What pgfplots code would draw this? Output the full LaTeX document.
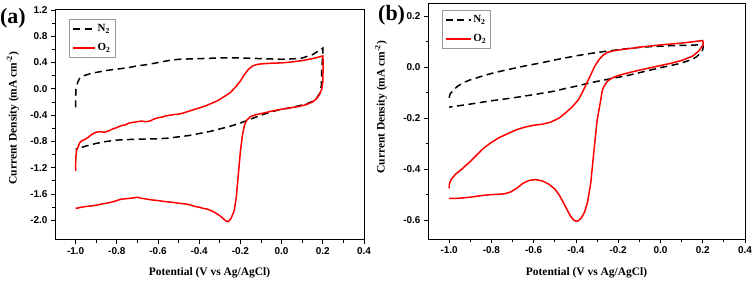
\documentclass[border=0pt]{standalone}
\usepackage{fontspec}
\setmainfont{Liberation Serif}
\setsansfont{Liberation Sans}
\usepackage{pgfplots}
\pgfplotsset{compat=1.18}
\pgfplotsset{cvstyle/.style={
  scale only axis,
  axis line style={line width=1bp},
  tick align=outside, xtick pos=bottom, ytick pos=left,
  major tick length=4bp, minor tick length=2.5bp,
  every tick/.style={black, line width=0.8bp},
  minor x tick num=1, minor y tick num=1,
  tick label style={font=\sffamily\bfseries\fontsize{10}{11}\selectfont,
    /pgf/number format/assume math mode=true,
    /pgf/number format/fixed, /pgf/number format/fixed zerofill,
    /pgf/number format/precision=1},
  xlabel={Potential (V vs Ag/AgCl)},
  ylabel={Current Density (mA cm\textsuperscript{-2})},
  label style={font=\bfseries\fontsize{11.5}{13}\selectfont},
  xmin=-1.1, xmax=0.4,
  xtick={-1.0,-0.8,...,0.41},
  legend cell align=left,
  n2/.style={black, line width=1.5bp, dash pattern=on 7bp off 4.5bp},
  o2/.style={red, line width=1.5bp},
}}
\begin{document}
\begin{tikzpicture}
\path[use as bounding box] (0,0) rectangle (756bp,281bp);
\begin{axis}[cvstyle, at={(55bp,41bp)}, anchor=south west, width=309bp, height=230bp,
  ymin=-2.3, ymax=1.2, ytick={-2.0,-1.6,...,1.21},
  xlabel style={at={(axis description cs:0.5,-0.143)}, anchor=center},
  ylabel style={at={(axis description cs:-0.136,0.53)}, anchor=center},
  legend style={at={(axis description cs:0.045,0.961)}, anchor=north west, draw=gray!80,
    font=\bfseries\fontsize{11}{12}\selectfont, inner xsep=3bp, inner ysep=4bp, row sep=7bp,
    nodes={inner sep=1.5bp}, fill=white},
  legend image code/.code={\draw[#1, line width=2bp] (0bp,0bp) -- (22bp,0bp);},
]
\addplot[n2] coordinates {
(-1.000,-0.28) (-1.000,-0.15) (-0.998,0.00) (-0.990,0.10) (-0.980,0.16) (-0.960,0.20) (-0.930,0.23)
(-0.900,0.25) (-0.850,0.28) (-0.800,0.30) (-0.750,0.32) (-0.700,0.35) (-0.650,0.37) (-0.600,0.40)
(-0.550,0.43) (-0.500,0.45) (-0.400,0.46) (-0.300,0.47) (-0.200,0.47) (-0.100,0.46) (0.000,0.45)
(0.050,0.455) (0.100,0.47) (0.150,0.52) (0.200,0.62) (0.200,0.55) (0.195,0.30) (0.193,0.05)
(0.185,-0.07) (0.170,-0.14) (0.150,-0.19) (0.120,-0.23) (0.080,-0.26) (0.040,-0.29) (0.000,-0.31)
(-0.050,-0.35) (-0.100,-0.40) (-0.150,-0.46) (-0.200,-0.52) (-0.250,-0.57) (-0.300,-0.61)
(-0.350,-0.65) (-0.400,-0.68) (-0.450,-0.71) (-0.500,-0.73) (-0.550,-0.75) (-0.600,-0.76)
(-0.700,-0.765) (-0.800,-0.78) (-0.850,-0.80) (-0.900,-0.83) (-0.950,-0.87) (-1.000,-0.92)
};
\addlegendentry{N\textsubscript{2}\hspace{22bp}}
\addplot[o2] coordinates {
(-1.000,-1.25) (-0.999,-1.05) (-0.995,-0.93) (-0.990,-0.90) (-0.980,-0.82) (-0.970,-0.79)
(-0.955,-0.77) (-0.940,-0.74) (-0.920,-0.69) (-0.900,-0.66) (-0.880,-0.65) (-0.860,-0.66)
(-0.840,-0.64) (-0.820,-0.61) (-0.800,-0.59) (-0.780,-0.56) (-0.760,-0.55) (-0.740,-0.52)
(-0.720,-0.51) (-0.700,-0.50) (-0.680,-0.49) (-0.660,-0.50) (-0.640,-0.49) (-0.620,-0.46)
(-0.600,-0.44) (-0.580,-0.43) (-0.560,-0.41) (-0.540,-0.40) (-0.520,-0.39) (-0.500,-0.385)
(-0.480,-0.37) (-0.460,-0.35) (-0.440,-0.33) (-0.420,-0.31) (-0.400,-0.29) (-0.370,-0.26)
(-0.340,-0.22) (-0.310,-0.18) (-0.280,-0.12) (-0.250,-0.06) (-0.220,0.04) (-0.200,0.12)
(-0.180,0.22) (-0.160,0.30) (-0.140,0.35) (-0.120,0.37) (-0.100,0.38) (-0.050,0.39)
(0.000,0.395) (0.050,0.41) (0.100,0.43) (0.150,0.46) (0.200,0.50) (0.202,0.40) (0.200,0.10)
(0.195,0.00) (0.185,-0.08) (0.170,-0.15) (0.150,-0.20) (0.120,-0.24) (0.080,-0.27) (0.040,-0.29)
(0.000,-0.31) (-0.050,-0.34) (-0.090,-0.37) (-0.120,-0.39) (-0.150,-0.42) (-0.170,-0.48)
(-0.180,-0.55) (-0.190,-0.70) (-0.200,-0.95) (-0.210,-1.30) (-0.220,-1.65) (-0.230,-1.85)
(-0.245,-1.97) (-0.258,-2.02) (-0.270,-2.01) (-0.285,-1.97) (-0.300,-1.93) (-0.330,-1.87)
(-0.360,-1.83) (-0.380,-1.82) (-0.400,-1.80) (-0.420,-1.79) (-0.450,-1.76) (-0.470,-1.75)
(-0.500,-1.74) (-0.520,-1.73) (-0.550,-1.72) (-0.580,-1.71) (-0.600,-1.70) (-0.630,-1.69)
(-0.650,-1.68) (-0.680,-1.665) (-0.700,-1.65) (-0.720,-1.66) (-0.750,-1.67) (-0.780,-1.68)
(-0.800,-1.70) (-0.820,-1.72) (-0.850,-1.74) (-0.870,-1.75) (-0.900,-1.77) (-0.920,-1.78)
(-0.950,-1.79) (-0.970,-1.80) (-1.000,-1.82)
};
\addlegendentry{O\textsubscript{2}}
\end{axis}
\begin{axis}[cvstyle, at={(428bp,41.7bp)}, anchor=south west, width=317bp, height=236bp,
  ymin=-0.675, ymax=0.25, ytick={-0.6,-0.4,...,0.21},
  xlabel style={at={(axis description cs:0.5,-0.143)}, anchor=center},
  ylabel style={at={(axis description cs:-0.148,0.56)}, anchor=center},
  legend style={at={(axis description cs:0.043,0.972)}, anchor=north west, draw=gray!80,
    font=\bfseries\fontsize{11}{12}\selectfont, inner xsep=3bp, inner ysep=4bp, row sep=7bp,
    nodes={inner sep=1.5bp}, fill=white},
  legend image code/.code={\draw[#1, line width=2bp] (0bp,0bp) -- (25bp,0bp);},
]
\addplot[n2] coordinates {
(-1.000,-0.12) (-0.995,-0.105) (-0.980,-0.09) (-0.960,-0.075) (-0.930,-0.06) (-0.900,-0.05)
(-0.850,-0.037) (-0.800,-0.025) (-0.750,-0.015) (-0.700,-0.006) (-0.650,0.003) (-0.600,0.011)
(-0.550,0.019) (-0.500,0.028) (-0.450,0.036) (-0.400,0.044) (-0.350,0.051) (-0.300,0.057)
(-0.250,0.063) (-0.200,0.068) (-0.150,0.073) (-0.100,0.077) (-0.050,0.080) (0.000,0.082)
(0.050,0.084) (0.100,0.085) (0.150,0.086) (0.200,0.088) (0.202,0.080) (0.200,0.068)
(0.190,0.055) (0.170,0.040) (0.150,0.030) (0.100,0.016) (0.050,0.006) (0.000,-0.002)
(-0.050,-0.012) (-0.100,-0.022) (-0.150,-0.032) (-0.200,-0.040) (-0.250,-0.048) (-0.300,-0.056)
(-0.350,-0.065) (-0.400,-0.075) (-0.450,-0.084) (-0.500,-0.094) (-0.550,-0.101) (-0.600,-0.108)
(-0.700,-0.121) (-0.800,-0.132) (-0.900,-0.145) (-1.000,-0.157)
};
\addlegendentry{N\textsubscript{2}\hspace{2bp}}
\addplot[o2] coordinates {
(-1.000,-0.475) (-0.998,-0.455) (-0.990,-0.44) (-0.970,-0.42) (-0.940,-0.40) (-0.900,-0.37)
(-0.870,-0.345) (-0.840,-0.32) (-0.800,-0.295) (-0.760,-0.275) (-0.720,-0.26) (-0.680,-0.245)
(-0.640,-0.235) (-0.600,-0.228) (-0.560,-0.224) (-0.520,-0.216) (-0.480,-0.200) (-0.450,-0.180)
(-0.420,-0.158) (-0.390,-0.130) (-0.370,-0.100) (-0.350,-0.065) (-0.330,-0.030) (-0.310,0.005)
(-0.290,0.030) (-0.270,0.048) (-0.250,0.058) (-0.220,0.064) (-0.180,0.069) (-0.100,0.078)
(0.000,0.087) (0.100,0.094) (0.200,0.104) (0.202,0.095) (0.200,0.085) (0.180,0.062)
(0.150,0.042) (0.100,0.026) (0.050,0.015) (0.000,0.006) (-0.050,-0.003) (-0.100,-0.012)
(-0.150,-0.022) (-0.200,-0.033) (-0.230,-0.043) (-0.250,-0.055) (-0.265,-0.072) (-0.275,-0.09)
(-0.285,-0.14) (-0.300,-0.21) (-0.315,-0.33) (-0.330,-0.455) (-0.345,-0.53) (-0.360,-0.57)
(-0.375,-0.592) (-0.390,-0.603) (-0.400,-0.604) (-0.410,-0.600) (-0.425,-0.585) (-0.440,-0.562)
(-0.460,-0.530) (-0.480,-0.500) (-0.500,-0.478) (-0.530,-0.458) (-0.560,-0.446) (-0.590,-0.441)
(-0.620,-0.444) (-0.650,-0.455) (-0.680,-0.475) (-0.710,-0.490) (-0.740,-0.497) (-0.780,-0.499)
(-0.820,-0.501) (-0.860,-0.505) (-0.900,-0.510) (-0.950,-0.514) (-1.000,-0.515)
};
\addlegendentry{O\textsubscript{2}}
\end{axis}
\node[font=\bfseries\fontsize{22}{24}\selectfont, anchor=base west, inner sep=0pt] at (0bp,257bp) {(a)};
\node[font=\bfseries\fontsize{22}{24}\selectfont, anchor=base west, inner sep=0pt] at (378bp,260bp) {(b)};
\end{tikzpicture}
\end{document}
